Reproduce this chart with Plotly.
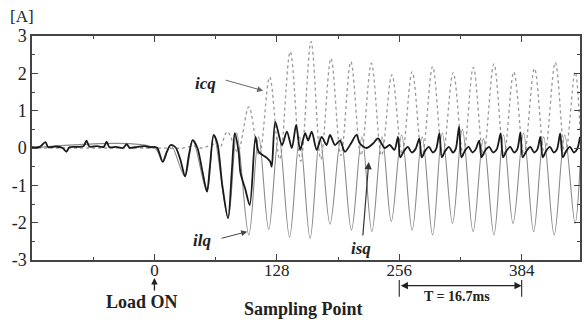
import plotly.graph_objects as go

# ---- data (sample index, current in A) ----
isq_s = [-128, -120, -114, -111, -103, -96, -92, -89, -80, -74, -71, -68, -60, -53, -50, -47, -40, -33, -29, -26, -18, -10, -5, 0,
         3, 8.7, 13, 17, 22, 27, 32, 36, 40, 45, 50, 55, 58, 62, 66, 71, 77, 81, 84, 88, 90, 95, 99.7, 105.7,
         109, 117.8, 121.2, 122.7, 126.4, 133.4, 138.5, 143.7, 148.2, 152.4, 157.6, 160.7, 164.5, 169.7, 174.9,
         180, 183.6, 188.8, 194, 199.2, 205, 211.3, 214.8, 221.7, 228.6, 233.8, 240.8, 246,
         251, 254.7, 257, 261, 265, 269, 273,
         277, 279.5, 283, 287, 291, 294.5,
         298, 300.5, 304, 308, 312, 315,
         318.6, 321, 324.5, 328.5, 332.5, 336,
         339.6, 342, 345.5, 350, 354, 358,
         362, 364.5, 368, 372, 376, 379.5,
         382.7, 385, 389, 393, 397, 400.5,
         403.5, 406, 409.5, 413.5, 417.5, 421,
         424.3, 427, 430.5, 434.5, 438.5, 442, 445]
isq_v = [0.02, 0.03, 0.16, 0.02, 0.04, 0.0, -0.1, 0.02, 0.03, 0.05, 0.2, 0.04, 0.05, 0.03, 0.17, 0.02, 0.03, 0.0, 0.1, 0.01, 0.03, 0.05, 0.02, 0.03,
         0.0, -0.37, -0.1, 0.08, 0.02, -0.3, -0.76, -0.2, 0.21, 0.0, -0.6, -1.17, -0.5, 0.35, 0.1, -1.0, -1.88, -0.6, 0.4, -0.1, -0.67, -1.1, -1.53, 0.3,
         -0.1, -0.27, -0.37, -0.5, 0.7, 0.08, 0.44, 0.0, 0.62, -0.05, 0.4, 0.2, 0.44, -0.05, 0.3,
         0.08, 0.35, 0.08, 0.2, -0.1, 0.1, 0.35, 0.12, 0.0, 0.12, 0.26, 0.0, 0.08,
         -0.05, 0.3, -0.25, -0.08, 0.03, -0.12, -0.03,
         0.25, -0.25, -0.08, 0.03, -0.12, -0.03,
         0.4, -0.25, -0.08, 0.03, -0.12, -0.03,
         0.57, -0.25, -0.08, 0.03, -0.12, -0.03,
         0.2, -0.25, -0.08, 0.03, -0.12, -0.03,
         0.39, -0.25, -0.08, 0.03, -0.12, -0.03,
         0.42, -0.25, -0.08, 0.03, -0.12, -0.03,
         0.3, -0.25, -0.08, 0.03, -0.12, -0.03,
         0.39, -0.25, -0.08, 0.03, -0.12, -0.03, 0.3]

icq_s = [-128, 0, 30, 40, 50, 62, 68, 76.3, 87, 98.7, 109.5, 120.5, 131, 142, 153, 163.8, 174, 184.6, 195, 205.4, 216,
         226.9, 237.5, 248.3, 259, 269.5, 280, 290.9, 301.5, 312.4, 323, 333.5, 344, 355, 365.5, 375.8, 386.5,
         397.4, 408, 419.2, 429.5, 439.9, 445]
icq_v = [0.0, 0.0, 0.0, 0.05, 0.0, 0.1, 0.0, 0.44, -0.1, 1.1, -0.2, 1.9, -0.3, 2.58, -0.35, 2.85, -0.3, 2.4, -0.2, 2.31, -0.2,
         2.27, -0.2, 1.96, -0.15, 2.04, -0.2, 2.18, -0.2, 2.02, -0.2, 2.16, -0.2, 2.25, -0.2, 2.04, -0.2,
         2.13, -0.2, 2.29, -0.2, 2.04, 0.5]

ilq_s = [-128, 0, 8.7, 17, 32, 40, 55, 62, 77, 86, 98.7, 109, 119.5, 130, 141.3, 152, 162.8, 173, 183.6, 195, 206, 217,
         227.4, 238, 247.7, 258.5, 269.5, 280, 290.9, 301, 311.7, 322, 333.2, 344, 355, 365, 375, 386, 396.5, 407,
         418, 429, 439.8, 445]
ilq_v = [0.0, 0.0, -0.37, 0.08, -0.76, 0.21, -1.17, 0.35, -1.88, 0.4, -2.33, 0.3, -2.18, 0.35, -2.38, 0.3, -2.42, 0.3, -2.04, 0.25, -2.2, 0.3,
         -2.24, 0.3, -1.97, 0.35, -2.2, 0.3, -2.33, 0.4, -2.02, 0.5, -2.24, 0.25, -2.33, 0.35, -2.02, 0.4, -2.24, 0.3,
         -2.33, 0.35, -2.02, -0.5]

x_tick_vals = [0, 128, 256, 384]
x_tick_text = ["0", "128", "256", "384"]
y_tick_vals = [-3, -2, -1, 0, 1, 2, 3]
y_tick_text = ["-3", "-2", "-1", "0", "1", "2", "3"]

SERIF = "Liberation Serif, Times New Roman, serif"

fig = go.Figure()
fig.add_trace(go.Scatter(x=icq_s, y=icq_v, mode="lines", name="icq",
                         line=dict(color="#9a9a9a", width=1.3, dash="dot", shape="spline", smoothing=1.0)))
fig.add_trace(go.Scatter(x=ilq_s, y=ilq_v, mode="lines", name="ilq",
                         line=dict(color="#8a8a8a", width=1.1, shape="spline", smoothing=1.0)))
fig.add_trace(go.Scatter(x=isq_s, y=isq_v, mode="lines", name="isq",
                         line=dict(color="#1a1a1a", width=1.8, shape="spline", smoothing=0.8)))

axis_common = dict(showline=True, linecolor="#444", linewidth=1.5, mirror="ticks",
                   ticks="inside", ticklen=6, tickcolor="#444", tickwidth=1.2,
                   showgrid=False, zeroline=False,
                   tickfont=dict(family=SERIF, size=17, color="#222"))

fig.update_xaxes(range=[-128, 445], tickmode="array", tickvals=x_tick_vals, ticktext=x_tick_text,
                 minor=dict(dtick=64, tick0=0, ticks="inside", ticklen=3, tickcolor="#444", showgrid=False),
                 ticklabelstandoff=-6, **axis_common)
fig.update_yaxes(range=[-3, 3], tickmode="array", tickvals=y_tick_vals, ticktext=y_tick_text,
                 minor=dict(dtick=0.5, tick0=0, ticks="inside", ticklen=3, tickcolor="#444", showgrid=False),
                 **axis_common)
fig.update_yaxes(tickfont=dict(family=SERIF, size=18, color="#222"))

lab = dict(family=SERIF, size=17, color="#222")
C = dict(xanchor="center", yanchor="middle")
annotations = [
    # curve labels
    dict(x=52.9, y=1.74, xref="x", yref="y", text="<b><i>icq</i></b>", showarrow=False, font=lab, **C),
    dict(x=49.6, y=-2.49, xref="x", yref="y", text="<b><i>ilq</i></b>", showarrow=False, font=lab, **C),
    dict(x=215.8, y=-2.68, xref="x", yref="y", text="<b><i>isq</i></b>", showarrow=False, font=lab, **C),
    # arrows
    dict(x=113.7, y=1.535, xref="x", yref="y", ax=-39, ay=-11, text="", showarrow=True,
         arrowhead=2, arrowsize=1.2, arrowwidth=1, arrowcolor="#666"),
    dict(x=97, y=-2.24, xref="x", yref="y", ax=-27, ay=7, text="", showarrow=True,
         arrowhead=2, arrowsize=1.2, arrowwidth=1, arrowcolor="#444"),
    dict(x=224.1, y=-0.375, xref="x", yref="y", ax=-6, ay=75, text="", showarrow=True,
         arrowhead=2, arrowsize=1.2, arrowwidth=1.2, arrowcolor="#333"),
    # Load ON
    dict(x=0, y=-0.08, xref="x", yref="paper", ax=0, ay=14, text="", showarrow=True,
         arrowhead=2, arrowsize=1, arrowwidth=1.3, arrowcolor="#222"),
    dict(x=-12.7, y=-0.1875, xref="x", yref="paper", text="<b>Load ON</b>", showarrow=False,
         font=dict(family=SERIF, size=18, color="#222"), **C),
    # axis title
    dict(x=155.6, y=-0.219, xref="x", yref="paper", text="<b>Sampling Point</b>", showarrow=False,
         font=dict(family=SERIF, size=18, color="#222"), **C),
    # period marker
    dict(x=384, y=-0.1147, xref="x", yref="paper", ax=256, ay=0, axref="x", ayref="pixel",
         text="", showarrow=True, arrowhead=2, startarrowhead=2, arrowside="end+start",
         arrowsize=1.2, arrowwidth=1.2, arrowcolor="#222"),
    dict(x=316.6, y=-0.165, xref="x", yref="paper", text="<b>T = 16.7ms</b>", showarrow=False,
         font=dict(family=SERIF, size=14, color="#222"), **C),
    # unit
    dict(x=-0.018, y=1.085, xref="paper", yref="paper", text="[A]", showarrow=False,
         font=dict(family=SERIF, size=17, color="#222"), **C),
]

shapes = [
    dict(type="line", xref="x", yref="paper", x0=256, x1=256, y0=-0.089, y1=-0.164,
         line=dict(color="#222", width=1.1)),
    dict(type="line", xref="x", yref="paper", x0=384, x1=384, y0=-0.089, y1=-0.164,
         line=dict(color="#222", width=1.1)),
]

fig.update_layout(width=584, height=320, margin=dict(l=32, r=2, t=36, b=60),
                  paper_bgcolor="white", plot_bgcolor="white", showlegend=False,
                  annotations=annotations, shapes=shapes)

fig.write_html("out.html", config={"displayModeBar": False},
               post_script="document.body.style.margin='0';document.body.style.overflow='hidden';")
